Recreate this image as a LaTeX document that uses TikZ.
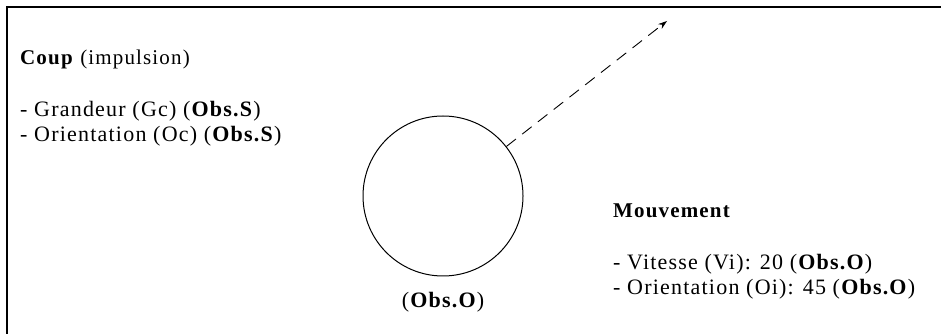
\documentclass[tikz,border=0pt]{standalone}
\usepackage{fontspec}
\setmainfont[LetterSpace=5.5]{Liberation Serif}
\usetikzlibrary{arrows.meta}

\begin{document}
\begin{tikzpicture}[x=1pt, y=1pt, font=\fontsize{22}{25}\selectfont,
    txt/.style={anchor=base west, inner sep=0pt},
    head/.style={txt, font=\fontsize{21}{25}\selectfont},
    ball/.style={circle, draw, line width=1pt, minimum size=160pt, inner sep=0pt}]
  \useasboundingbox (0,0) rectangle (941,334);
  % frame
  \begin{scope}
    \clip (0,0) rectangle (941,334);
    \draw[line width=2pt] (6.5,-20) |- (960,326.5);
  \end{scope}
  % impulsion
  \node[head] (coup) at (20,269) {\textbf{Coup} (impulsion)};
  \node[txt] (gc) at (20,217) {- Grandeur (Gc) (\textbf{Obs.S})};
  \node[txt] (oc) at (20,192) {- Orientation (Oc) (\textbf{Obs.S})};
  % objet
  \node[ball] (obj) at (443,138) {};
  \node[txt, anchor=base] (obso) at (443,26) {(\textbf{Obs.O})};
  \coordinate (tip) at (667,313);
  \draw[line width=0.9pt, dash pattern=on 12pt off 8pt, -{Stealth[length=9pt, width=6pt]}] (obj) -- (tip);
  % mouvement
  \node[head] (mouv) at (613,116) {\textbf{Mouvement}};
  \node[txt] (vi) at (613,64) {- Vitesse (Vi): 20 (\textbf{Obs.O})};
  \node[txt] (oi) at (613,39) {- Orientation (Oi): 45 (\textbf{Obs.O})};
\end{tikzpicture}
\end{document}
